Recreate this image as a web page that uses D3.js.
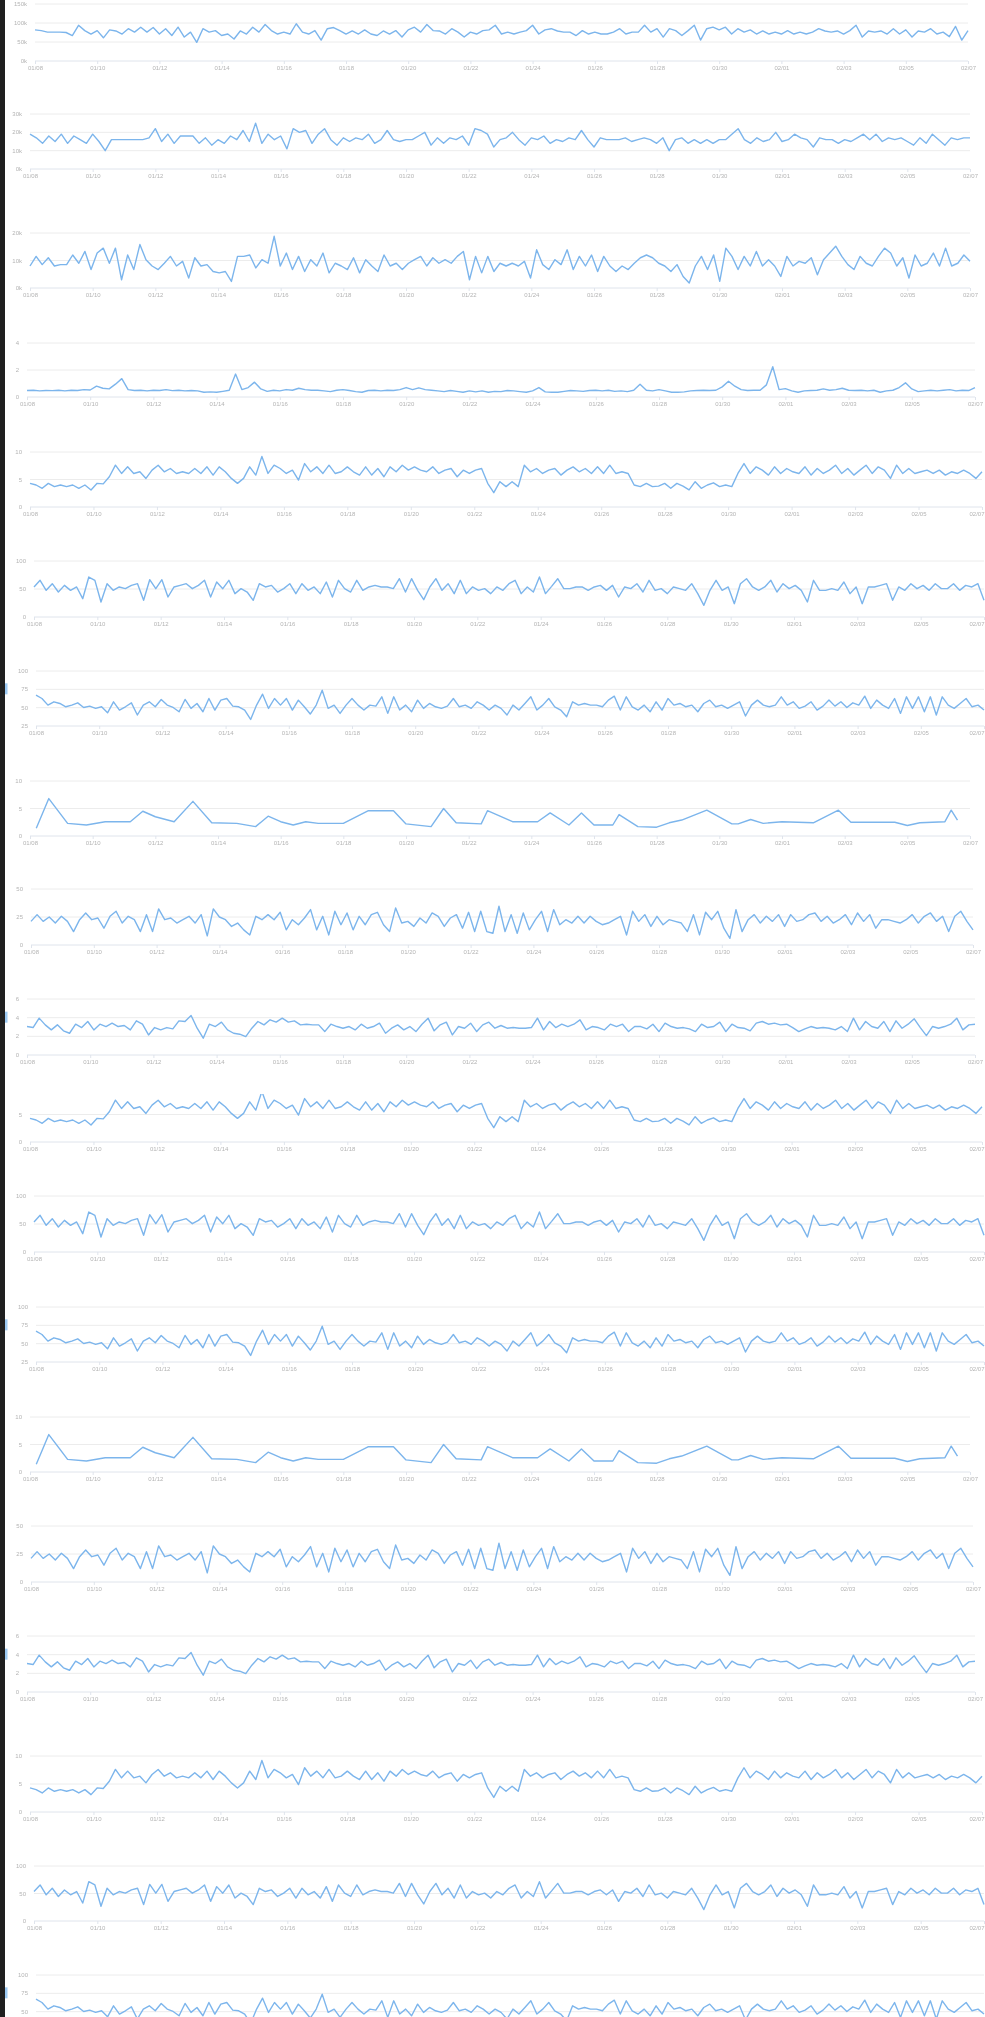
<!DOCTYPE html>
<html>
<head>
<meta charset="utf-8">
<script src="https://cdn.jsdelivr.net/npm/d3@7/dist/d3.min.js"></script>
<style>
	html, body { margin: 0; padding: 0; background: #fff; }
	svg { display: block; }
	text { font-family: "Liberation Sans", Arial, sans-serif; }
</style>
</head>
<body>
<svg id="charts"></svg>
<script>
// Shared x axis labels (one per tick, every 10 points)
const xLabels = ['01/08', '01/10', '01/12', '01/14', '01/16', '01/18', '01/20', '01/22',
	'01/24', '01/26', '01/28', '01/30', '02/01', '02/03', '02/05', '02/07'];

// Series values
const visits = [82,80,76,76,76,75,67,94,80,71,80,61,82,79,71,85,76,89,76,88,71,85,67,89,63,76,49,85,76,80,67,71,58,79,71,89,76,96,80,71,76,71,98,76,71,80,55,85,88,80,71,79,71,82,71,67,79,71,80,63,82,89,76,96,80,79,71,85,76,63,76,71,80,82,94,71,76,71,76,80,94,71,82,85,79,76,76,67,80,71,76,71,71,76,85,71,76,76,94,76,85,63,85,80,67,80,94,55,85,89,82,89,71,85,76,82,71,79,71,76,71,80,71,76,71,76,85,79,76,79,71,80,94,63,79,76,79,71,85,71,82,63,79,76,85,71,76,64,91,55,80];
const sessions = [19,17,14,18,15,19,14,18,16,14,19,15,10,16,16,16,16,16,16,17,22,15,19,14,18,18,18,14,17,13,16,14,18,16,21,15,25,14,19,16,18,11,22,20,21,14,19,22,16,13,17,15,17,16,19,14,16,21,16,15,16,16,18,20,13,17,14,17,16,18,13,22,21,19,12,16,17,20,16,13,17,16,18,14,16,15,17,16,21,16,12,17,16,16,16,17,15,16,17,16,14,17,10,16,17,14,16,14,16,14,16,16,19,22,16,14,17,15,16,20,15,16,19,17,16,12,17,16,16,14,16,15,17,19,16,19,15,17,16,17,15,13,17,14,19,16,13,17,16,17,17];
const users = [8,11.5,8.5,11,8,8.5,8.5,12,9,13.3,6.7,12.7,14.5,9,14.5,3,12,6.7,15.8,10.3,8,6.7,9,11.5,8,9.7,3.6,11,8,8.5,6,5.5,6,2.4,11.5,11.5,12,7.3,10.3,9,18.8,8,12.7,6.7,11.5,6,10.3,8,12.7,5.5,9,8,6.7,11,5.5,10.3,8,6,12,8,9,6.7,9,10.3,11.5,8,11,9,10.3,9,11.5,13.3,3,11.5,5.5,11.5,6,9,8,9,8,9.7,3.6,13.9,8.5,6.7,10.3,8.5,13.9,6.7,11.5,8,12,6,11.5,8,6,8,6.7,9,11,12,11,9,8,6,8.5,4.2,1.8,8,11.5,6.7,12,2.4,14.5,11.5,6.7,11.5,8,13.3,8,10.3,8,4.2,11.5,8,9.7,9,11,4.8,10.3,12.7,15.2,11.5,8.5,6.7,11.5,9,8,11.5,14.5,12.7,8,11,3.6,12,8,9,12.7,8,14.5,8,9,12,9.7];
const errors = [0.48,0.5,0.45,0.48,0.47,0.5,0.45,0.5,0.48,0.55,0.52,0.8,0.65,0.6,0.95,1.36,0.55,0.48,0.5,0.45,0.5,0.48,0.55,0.47,0.5,0.45,0.48,0.45,0.35,0.38,0.35,0.42,0.5,1.7,0.55,0.7,1.1,0.6,0.42,0.5,0.45,0.55,0.5,0.65,0.55,0.5,0.5,0.45,0.4,0.5,0.55,0.48,0.4,0.35,0.48,0.5,0.45,0.5,0.48,0.55,0.7,0.55,0.68,0.55,0.5,0.45,0.4,0.48,0.42,0.35,0.45,0.38,0.45,0.35,0.42,0.4,0.48,0.45,0.4,0.35,0.45,0.7,0.38,0.35,0.35,0.42,0.48,0.45,0.42,0.48,0.5,0.45,0.5,0.42,0.45,0.4,0.5,0.95,0.5,0.45,0.55,0.45,0.35,0.35,0.38,0.45,0.48,0.5,0.48,0.5,0.75,1.17,0.8,0.55,0.48,0.5,0.5,0.9,2.24,0.55,0.62,0.45,0.35,0.45,0.48,0.5,0.6,0.5,0.55,0.65,0.5,0.48,0.5,0.45,0.5,0.35,0.45,0.5,0.7,1.05,0.6,0.4,0.45,0.5,0.45,0.5,0.55,0.45,0.5,0.48,0.7];
const orders = [4.3,4.0,3.4,4.3,3.7,4.0,3.7,4.0,3.4,4.0,3.1,4.3,4.2,5.5,7.6,6.1,7.3,6.1,6.4,5.2,6.7,7.6,6.4,7.0,6.1,6.4,6.1,7.0,6.1,7.3,5.8,7.3,6.4,5.2,4.3,5.2,7.3,5.8,9.2,6.1,7.6,7.0,6.1,6.7,4.9,7.9,6.4,7.3,6.1,7.6,6.1,6.4,7.3,6.4,5.8,7.3,5.8,7.0,5.5,7.3,6.4,7.6,6.7,7.3,6.7,6.4,7.3,6.1,6.7,7.0,5.5,6.7,6.1,6.7,7.0,4.3,2.6,4.6,3.7,4.6,3.7,7.6,6.4,7.0,6.1,6.7,7.0,5.8,6.7,7.3,6.4,7.0,6.1,7.3,6.1,7.6,6.1,6.4,6.1,4.0,3.7,4.3,3.7,3.8,4.3,3.4,4.3,3.8,3.1,4.6,3.4,4.0,4.4,3.7,4.0,3.7,6.1,7.9,6.1,7.3,6.7,5.8,7.3,6.1,7.0,6.4,6.1,7.3,5.8,7.0,6.1,6.7,7.6,6.1,7.0,5.8,6.7,7.6,6.1,7.3,6.7,5.2,7.6,6.1,7.0,6.1,6.4,6.7,6.1,6.7,5.8,6.4,6.1,6.7,6.1,5.2,6.4];
const bounce = [53.6,65.5,47.6,59.5,44.6,56.5,47.6,53.6,32.7,71.4,65.5,26.8,59.5,47.6,53.6,50.6,56.5,59.5,29.8,66.6,50.6,66.6,35.7,53.6,56.5,59.5,50.6,56.5,65.5,35.7,62.5,50.6,65.5,41.7,50.6,44.6,29.8,59.5,53.6,56.5,44.6,50.6,59.5,41.7,59.5,47.6,53.6,41.7,62.5,35.7,65.5,50.6,44.6,65.5,47.6,53.6,56.5,53.6,53.6,50.6,68.4,44.6,68.4,47.6,31,53.6,68.4,47.6,59.5,41.7,65.5,41.7,53.6,47.6,50.6,41.7,53.6,47.6,59.5,65.5,41.7,53.6,44.6,71.4,41.7,54.7,68.4,50.6,50.6,53.6,53.6,47.6,53.6,56.5,47.6,56.5,35.7,53.6,50.6,59.5,44.6,65.5,47.6,50.6,41.7,53.6,50.6,47.6,59.5,41.7,20.8,47.6,65.5,47.6,53.6,23.8,59.5,68.4,53.6,47.6,53.6,65.5,44.6,59.5,50.6,56.5,47.6,26.8,65.5,47.6,47.6,50.6,47.6,62.5,41.7,53.6,23.8,53.6,53.6,56.5,59.5,29.8,53.6,47.6,59.5,50.6,56.5,47.6,59.5,50.6,50.6,59.5,47.6,56.5,53.6,59.5,29.8];
const loadTime = [67,62.5,53.5,58,55.7,51.2,53.5,56.6,50.3,52.1,49,51.2,43,58,46.7,51.2,56.6,40,53.5,58,51.2,61.2,53.5,50.3,44.4,61.2,49,55.7,44.4,62.5,46.7,60.3,62.5,52.1,51.2,46.7,34,53.5,68.4,49,62.5,53.5,62.5,46.7,60.3,51.2,41.3,53.5,73.8,49,53.5,42.2,53.5,62.5,53.5,46.7,53.5,52.1,64.8,42.2,64.8,46.7,53.5,44.4,60.3,49,55.7,51.2,49,52.1,62.5,51.2,53.5,49,58,53.5,46.7,53.5,49,40,53.5,46.7,55.7,64.8,46.7,53.5,62.5,51.2,46.7,37.7,58,53.5,55.7,53.5,53.5,51.2,60.3,65.7,46.7,64.8,51.2,46.7,53.5,44.4,58,46.7,62.5,53.5,55.7,51.2,53.5,44.4,55.7,60.3,51.2,53.5,49,53.5,58,38.6,53.5,60.3,53.5,51.2,53.5,64.8,53.5,58,49,52.1,58,46.7,52.1,60.3,52.1,58,50.3,56.6,53.5,65.7,49,60.3,53.5,49,62.5,42.2,64.8,49,64.8,44.4,64.8,40,64.8,53.5,49,55.7,62.5,51.2,53.5,46.7];
// Sparse series: day index and value
const refundDays = [1,3,6,9,12,16,18,20,23,26,29,33,36,38,40,42,44,46,50,54,58,60,64,66,68,72,73,77,81,83,86,88,90,93,94,97,100,102,104,108,112,113,115,117,120,125,129,131,138,140,142,146,147,148];
const refundVals = [1.4,6.8,2.3,2.0,2.6,2.6,4.5,3.5,2.6,6.3,2.4,2.3,1.7,3.6,2.6,2.0,2.6,2.3,2.3,4.6,4.6,2.2,1.7,5.0,2.4,2.2,4.6,2.6,2.6,4.2,2.0,4.2,2.0,2.0,3.9,1.7,1.6,2.4,2.9,4.7,2.2,2.2,3.0,2.3,2.6,2.4,4.7,2.5,2.5,1.9,2.4,2.6,4.7,2.9];
const conversion = [21.1,27.1,21.1,25,19.6,25.6,21.1,12,22.6,28.6,22.6,24.1,15,25.6,30.1,19.6,25.6,22.6,12,27.1,12,32.2,22.6,24.1,19.6,22.6,25.6,19.6,27.1,8.1,32.2,25,22.6,16.6,19.6,13.5,9,25.6,22.6,27.1,22.6,29.2,13.5,22.6,18.1,24.1,31.6,13.5,25.6,9,30.1,18.1,28.6,13.5,25.6,18.1,27.1,29.2,18.1,12,33.1,19.6,21.1,16.6,24.1,19.6,28.6,25.6,16.6,24.1,27.1,15,29.2,12,30.1,12,10.5,34.6,12,27.1,10.5,28.6,13.5,22.6,30.1,12,31.6,18.1,22.6,19.6,25.6,19.6,25.6,21.1,18.1,19.6,22.6,25.6,9,30.1,21.1,27.1,16.6,25.6,18.1,22.6,21.1,19.6,12,27.1,9,29.2,22.6,30.1,15,6,31.6,12,22.6,27.1,19.6,25.6,21.1,27.1,16.6,27.1,21.1,22.6,27.1,28.6,21.1,25.6,19.6,22.6,27.1,18.1,28.6,21.1,27.1,15,22.6,22.6,21.1,19.6,22.6,27.1,19.6,25.6,28.6,21.1,25.6,12,25.6,30.1,21.1,13.5];
const pages = [3.05,2.94,3.95,3.23,2.69,3.23,2.59,2.33,3.3,2.94,3.59,2.69,3.3,3.05,3.41,3.05,3.16,2.69,3.66,3.3,2.15,2.94,2.69,2.94,2.8,3.66,3.59,4.24,2.87,1.8,3.3,3.05,3.52,2.69,2.33,2.23,1.97,2.87,3.59,3.23,3.77,3.52,3.95,3.52,3.66,3.23,3.3,3.23,3.23,2.51,3.3,3.05,2.87,3.05,2.69,3.3,2.87,3.05,3.41,2.33,2.87,3.23,2.69,3.05,2.51,3.3,3.95,2.59,3.23,3.52,2.15,3.05,2.87,3.41,2.51,3.23,3.52,2.87,3.16,2.87,2.94,2.87,2.87,2.94,3.95,2.69,3.59,2.94,3.3,3.05,3.3,3.77,2.69,3.05,2.94,2.69,3.3,3.05,3.3,2.51,3.05,3.05,2.8,3.3,2.51,3.41,3.05,2.87,2.94,2.8,2.51,3.3,2.94,3.05,3.52,2.51,3.3,2.94,2.87,2.59,3.41,3.59,3.3,3.41,3.23,3.3,2.94,2.51,2.8,3.05,2.87,2.94,2.87,2.69,3.05,2.51,3.95,2.69,3.59,3.05,2.87,3.59,2.51,3.66,2.87,3.3,3.88,2.94,2.08,3.05,2.87,3.05,3.3,3.95,2.69,3.23,3.3];

// y axis tick values and their labels
const ticksVisits = [0, 50, 100, 150];     const labelsVisits = ['0k', '50k', '100k', '150k'];
const ticksSessions = [0, 10, 20, 30];     const labelsSessions = ['0k', '10k', '20k', '30k'];
const ticksUsers = [0, 10, 20];            const labelsUsers = ['0k', '10k', '20k'];
const ticksErrors = [0, 2, 4];             const labelsErrors = ['0', '2', '4'];
const ticksOrders = [0, 5, 10];            const labelsOrders = ['0', '5', '10'];
const ticksBounce = [0, 50, 100];          const labelsBounce = ['0', '50', '100'];
const ticksLoad = [25, 50, 75, 100];       const labelsLoad = ['25', '50', '75', '100'];
const ticksRefund = [0, 5, 10];            const labelsRefund = ['0', '5', '10'];
const ticksConv = [0, 25, 50];             const labelsConv = ['0', '25', '50'];
const ticksPages = [0, 2, 4, 6];           const labelsPages = ['0', '2', '4', '6'];

// Build the chart table from the arrays above
const series = [
	{ values: visits, ticks: ticksVisits, labels: labelsVisits },
	{ values: sessions, ticks: ticksSessions, labels: labelsSessions },
	{ values: users, ticks: ticksUsers, labels: labelsUsers },
	{ values: errors, ticks: ticksErrors, labels: labelsErrors },
	{ values: orders, ticks: ticksOrders, labels: labelsOrders },
	{ values: bounce, ticks: ticksBounce, labels: labelsBounce },
	{ values: loadTime, ticks: ticksLoad, labels: labelsLoad },
	{ points: refundDays.map((d, i) => [d, refundVals[i]]), ticks: ticksRefund, labels: labelsRefund },
	{ values: conversion, ticks: ticksConv, labels: labelsConv },
	{ values: pages, ticks: ticksPages, labels: labelsPages }
];

// Which series each panel shows (the page repeats the last six)
const panelSeries = [0, 1, 2, 3, 4, 5, 6, 7, 8, 9, 4, 5, 6, 7, 8, 9, 4, 5, 6];

// Panel boxes on the page: bottom axis y, top gridline y, plot left/right, optional clip
const panelLayout = [
	{ axis: 61, top: 4, left: 35, right: 968 },
	{ axis: 169, top: 114, left: 30, right: 970 },
	{ axis: 288, top: 233, left: 30, right: 970 },
	{ axis: 397, top: 343, left: 27, right: 975 },
	{ axis: 507, top: 452, left: 30, right: 982 },
	{ axis: 617, top: 561, left: 34, right: 984 },
	{ axis: 726, top: 671, left: 36, right: 984, mark: true },
	{ axis: 836, top: 781, left: 30, right: 970 },
	{ axis: 945, top: 889, left: 31, right: 973 },
	{ axis: 1055, top: 999, left: 27, right: 975, mark: true },
	{ axis: 1142, top: 1087, left: 30, right: 982, clip: 1094 },
	{ axis: 1252, top: 1196, left: 34, right: 984 },
	{ axis: 1362, top: 1307, left: 36, right: 984, mark: true },
	{ axis: 1472, top: 1417, left: 30, right: 970 },
	{ axis: 1582, top: 1526, left: 31, right: 973 },
	{ axis: 1692, top: 1636, left: 27, right: 975, mark: true },
	{ axis: 1812, top: 1756, left: 30, right: 982 },
	{ axis: 1921, top: 1866, left: 34, right: 984 },
	{ axis: 2030, top: 1975, left: 36, right: 984, mark: true }
];

const width = 985, height = 2017;
const svg = d3.select('#charts').attr('width', width).attr('height', height);

// soft blur, the reference is a scaled screenshot
const defs = svg.append('defs');
defs.append('filter').attr('id', 'soft')
	.append('feGaussianBlur').attr('stdDeviation', 0.35);

svg.append('rect').attr('width', width).attr('height', height).attr('fill', '#fff');
const root = svg.append('g').attr('filter', 'url(#soft)');

const drawPanel = (box, s, i) => {
	let g = root.append('g');
	if (box.clip) {
		defs.append('clipPath').attr('id', `clip${i}`)
			.append('rect')
			.attr('x', 0).attr('y', box.clip)
			.attr('width', width).attr('height', box.axis + 30 - box.clip);
		g.attr('clip-path', `url(#clip${i})`);
	}

	let y = d3.scaleLinear()
		.domain(d3.extent(s.ticks))
		.range([box.axis, box.top]);

	// gridlines
	g.selectAll('line.grid')
		.data(s.ticks)
		.enter()
		.append('line')
		.attr('x1', box.left).attr('x2', box.right)
		.attr('y1', (d) => y(d)).attr('y2', (d) => y(d))
		.attr('stroke', (d, k) => k === 0 ? '#dfe4ec' : '#ececec')
		.attr('stroke-width', 1);

	// y tick labels, only the ones that fall on the page
	let yTicks = s.ticks.map((d, k) => ({ v: d, label: s.labels[k] }))
		.filter((t) => y(t.v) + 4 < height);
	g.selectAll('text.ylab')
		.data(yTicks)
		.enter()
		.append('text')
		.attr('x', box.left - 8)
		.attr('y', (d) => y(d.v))
		.attr('dy', '0.35em')
		.attr('text-anchor', 'end')
		.attr('font-size', 6)
		.attr('fill', '#b4b4b4')
		.text((d) => d.label);

	// x axis: ticks and labels only, the baseline gridline is the axis line
	// (skipped when the axis lies below the bottom of the page)
	let xPoint = d3.scalePoint().domain(xLabels).range([box.left, box.right]);
	if (box.axis + 12 < height) {
		let axis = g.append('g')
			.attr('transform', `translate(0,${box.axis})`)
			.call(d3.axisBottom(xPoint).tickSize(3).tickPadding(2));
		axis.select('.domain').remove();
		axis.selectAll('line').attr('stroke', '#dfe4ec');
		axis.selectAll('text')
			.attr('font-size', 6)
			.attr('font-family', '"Liberation Sans", Arial, sans-serif')
			.attr('fill', '#b4b4b4');
		// keep the last label inside the page
		axis.selectAll('.tick text').each(function (d) {
			let w = this.getComputedTextLength();
			let tx = xPoint(d);
			if (tx + w / 2 > width - 1) {
				d3.select(this)
					.attr('text-anchor', 'end')
					.attr('x', width - 1 - tx);
			}
		});
	}

	// the series line
	let line;
	let data;
	if (s.points) {
		let x = d3.scaleLinear().domain([0, 150]).range([box.left, box.right]);
		line = d3.line().x((d) => x(d[0])).y((d) => y(d[1]));
		data = s.points;
	} else {
		let x = d3.scaleLinear().domain([0, s.values.length - 1]).range([box.left, box.right]);
		line = d3.line().x((d, k) => x(k)).y((d) => y(d));
		data = s.values;
	}
	g.append('path')
		.datum(data)
		.attr('d', line)
		.attr('fill', 'none')
		.attr('stroke', '#7cb5ec')
		.attr('stroke-width', 1.4)
		.attr('stroke-linejoin', 'round');

	// small blue marker at the page edge
	if (box.mark) {
		let yMark = y(s.ticks[s.ticks.length - 2]);
		g.append('rect')
			.attr('x', 5).attr('y', yMark - 6)
			.attr('width', 2.5).attr('height', 11)
			.attr('fill', '#9ccaf4');
	}
};

panelLayout.forEach((box, i) => drawPanel(box, series[panelSeries[i]], i));

// dark strip on the left edge of the screenshot
svg.append('rect')
	.attr('x', 0).attr('y', 0)
	.attr('width', 5).attr('height', height)
	.attr('fill', '#1f1f1f');
</script>
</body>
</html>
